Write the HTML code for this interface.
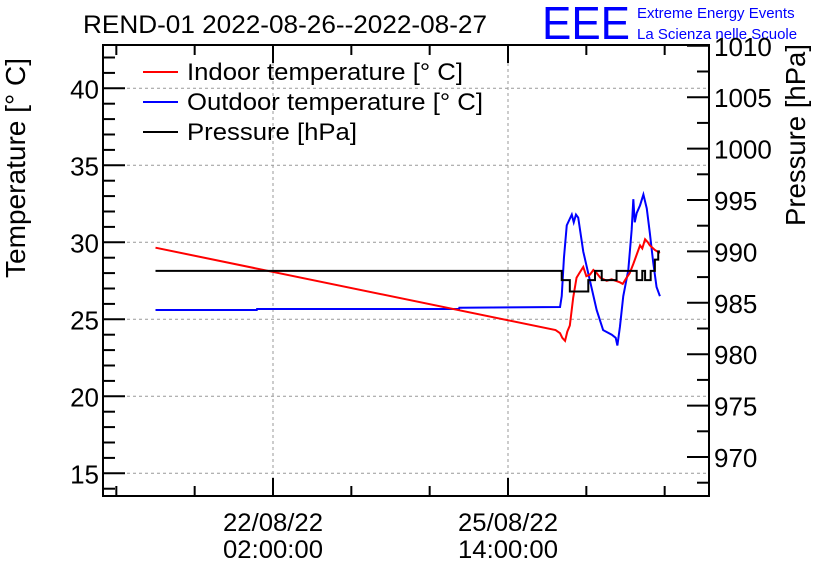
<!DOCTYPE html>
<html><head><meta charset="utf-8"><style>
html,body{margin:0;padding:0;background:#fff;}
svg{display:block;font-family:"Liberation Sans",sans-serif;}
</style></head><body>
<svg id="chart" width="836" height="572" viewBox="0 0 836 572">
<rect width="836" height="572" fill="#fff"/>
<text x="83" y="33" font-size="25" textLength="404" lengthAdjust="spacingAndGlyphs" fill="#000">REND-01 2022-08-26--2022-08-27</text>
<text x="542" y="39" font-size="46" fill="#0000ff" textLength="88" lengthAdjust="spacingAndGlyphs">EEE</text>
<text x="637" y="18" font-size="15" fill="#0000ff">Extreme Energy Events</text>
<text x="637" y="39" font-size="15" fill="#0000ff">La Scienza nelle Scuole</text>
<g id="grid"></g>
<g id="ticks"></g>
<g id="series"></g>
<rect x="103" y="45" width="606" height="451" fill="none" stroke="#000" stroke-width="2"/>
<text transform="translate(25,168) rotate(-90)" text-anchor="middle" font-size="28" textLength="220" lengthAdjust="spacingAndGlyphs">Temperature [° C]</text>
<text transform="translate(805,135) rotate(-90)" text-anchor="middle" font-size="28" textLength="182" lengthAdjust="spacingAndGlyphs">Pressure [hPa]</text>
<g>
<line x1="143" y1="72" x2="178" y2="72" stroke="#ff0000" stroke-width="2"/>
<text x="187" y="80" font-size="24" textLength="276" lengthAdjust="spacingAndGlyphs">Indoor temperature [° C]</text>
<line x1="143" y1="102" x2="178" y2="102" stroke="#0000ff" stroke-width="2"/>
<text x="187" y="110" font-size="24" textLength="296" lengthAdjust="spacingAndGlyphs">Outdoor temperature [° C]</text>
<line x1="143" y1="132" x2="178" y2="132" stroke="#000" stroke-width="2"/>
<text x="187" y="140" font-size="24" textLength="170" lengthAdjust="spacingAndGlyphs">Pressure [hPa]</text>
</g>
</svg>
<script>
// hours since 22/08/22 02:00
const indoorHours=[-42,101,102.6,103.4,104.4,105.2,106.1,107.3,108.5,109.5,110.9,112,113.3,114.5,115.7,117,119.3,121,124,125,126.4,127.5,128.8,130,131.2,132,133,134,134.7,136.5,138.3];
const indoorTemp=[29.65,24.3,24.1,23.8,23.6,24.2,24.6,26.4,27.7,28.0,28.4,27.8,27.9,28.2,28.0,27.7,27.5,27.6,27.4,27.3,27.7,28.0,28.6,29.2,29.8,29.6,30.2,30.0,29.8,29.5,29.3];
const outdoorHours=[-42,-5.8,-5.7,66.5,66.6,102.6,103.2,104,105,106.8,107.5,108.3,109.1,110.9,113.3,115.7,118,121.1,122.5,123.1,124,125.2,127,128.2,128.8,129.3,130,131.2,132.4,133.6,134.7,135.9,137.1,138.3];
const outdoorTemp=[25.6,25.6,25.67,25.67,25.75,25.8,26.5,29,31.1,31.8,31.3,31.8,31.6,29.4,27.5,25.6,24.3,24,23.8,23.3,24.5,26.5,28.2,30.8,32.8,31.3,31.9,32.4,33.1,32.2,30.6,28.7,27.1,26.5];
const pressHours=[-42,103.2,106.1,112.7,115.1,117.5,122.8,130,132,133,135,136.5,137.7,138.3];
const pressVal=[988.1,987.2,986.1,987.2,988.1,987.2,988.1,987.2,988.1,987.2,988.1,989.2,990.0,990.0];
const leftTicks=[15,20,25,30,35,40];
const rightTicks=[970,975,980,985,990,995,1000,1005,1010];
const xTickHours=[0,84];
const xTickLabels=[["22/08/22","02:00:00"],["25/08/22","14:00:00"]];

const NS="http://www.w3.org/2000/svg";
const L=103,R=709,T=45,B=496;
const xS=h=>273+h*235/84;
const yT=v=>242.3-(v-30)*15.4;
const yP=p=>457-(p-970)*10.28;
function mk(tag,attrs,parent){const e=document.createElementNS(NS,tag);for(const k in attrs)e.setAttribute(k,attrs[k]);parent.appendChild(e);return e;}
const grid=document.getElementById('grid'),ticks=document.getElementById('ticks'),series=document.getElementById('series');

leftTicks.forEach(v=>{
 const y=yT(v);
 const g=mk('line',{x1:L,x2:R,y1:y,y2:y,stroke:'#999','stroke-dasharray':'3,3','stroke-width':1},grid);
 
 
 const t=mk('text',{x:99,y:y+10,'text-anchor':'end','font-size':26},ticks);
 t.textContent=v;
 
 
});
for(let v=14;v<=42;v++){const y=yT(v);const major=v%5===0;mk('line',{x1:L,x2:L+(major?22:12),y1:y,y2:y,stroke:'#000','stroke-width':2},ticks);}
rightTicks.forEach(v=>{
 const y=yP(v);
 mk('line',{x1:R-22,x2:R,y1:y,y2:y,stroke:'#000','stroke-width':2},ticks);
 const t=mk('text',{x:714,y:y+10,'font-size':26},ticks);
 t.textContent=v;
 
 
});
for(let v=967.5;v<=1010;v+=5){const y=yP(v);if(y>T&&y<B)mk('line',{x1:R-12,x2:R,y1:y,y2:y,stroke:'#000','stroke-width':2},ticks);}
xTickHours.forEach((h,i)=>{
 const x=xS(h);
 const g=mk('line',{x1:x,x2:x,y1:T,y2:B,stroke:'#999','stroke-dasharray':'3,3','stroke-width':1},grid);
 
 
 xTickLabels[i].forEach((s,j)=>{
  const t=mk('text',{x:x,y:531+j*27,'text-anchor':'middle','font-size':25,textLength:100,lengthAdjust:'spacingAndGlyphs'},ticks);
  t.textContent=s;
  
  
 });
});
for(let k=-6;k<=6;k++){const h=k*28;const x=xS(h);if(x<=L||x>=R)continue;const major=h%84===0;
 mk('line',{x1:x,x2:x,y1:B,y2:B-(major?18:10),stroke:'#000','stroke-width':2},ticks);
 mk('line',{x1:x,x2:x,y1:T,y2:T+(major?18:10),stroke:'#000','stroke-width':2},ticks);}

function poly(hs,vs,ys,color,name,step){
 let pts=[];
 hs.forEach((h,i)=>{if(step&&i>0)pts.push(xS(h)+','+ys(vs[i-1]));pts.push(xS(h)+','+ys(vs[i]));});
 const p=mk('polyline',{points:pts.join(' '),fill:'none',stroke:color,'stroke-width':2},series);
 
 
}
poly(outdoorHours,outdoorTemp,yT,'#0000ff','outdoor-temperature-line',false);
poly(indoorHours,indoorTemp,yT,'#ff0000','indoor-temperature-line',false);
poly(pressHours,pressVal,yP,'#000000','pressure-line',true);
</script>
</body></html>
